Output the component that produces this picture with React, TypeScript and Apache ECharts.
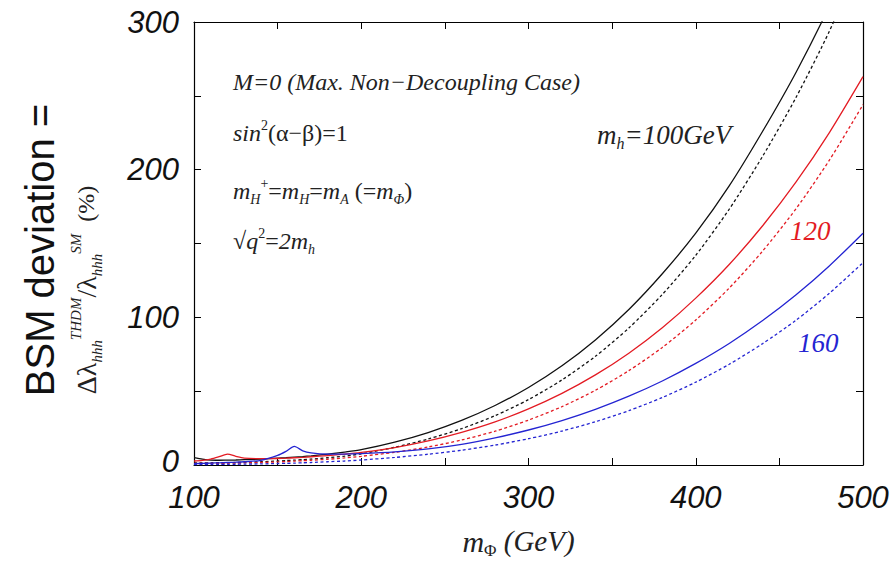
import React, { useEffect, useRef } from "react";
import * as echarts from "echarts";

// m_Phi values (GeV)
const mPhi = [100, 105, 110, 115, 120, 125, 130, 140, 150, 155, 160, 165, 170, 180, 190, 200, 220, 240, 260, 280, 300, 320, 340, 360, 380, 400, 420, 440, 460, 480, 500];

// Δλ/λ (%) — solid curves
const mh100Solid = [5.0, 4.0, 3.3, 3.2, 3.3, 3.4, 3.6, 4.0, 4.6, 4.9, 5.3, 5.7, 6.2, 7.3, 8.7, 10.4, 15.5, 22.0, 30.2, 40.3, 52.5, 67.2, 84.7, 105.3, 129.5, 157, 189, 226, 266, 311, 362];
const mh120Solid = [2.7, 3.1, 4.0, 5.6, 7.4, 5.9, 4.7, 4.3, 4.4, 4.6, 4.9, 5.2, 5.6, 6.4, 7.3, 8.5, 11.8, 16.3, 22.1, 29.2, 38.0, 48.5, 61.0, 75.7, 92.9, 113, 135.8, 162, 191.7, 225.3, 263];
const mh160Solid = [0.9, 1.1, 1.3, 1.5, 1.7, 1.9, 2.2, 3.2, 6.5, 9.2, 12.6, 9.6, 8.2, 7.4, 7.4, 7.7, 8.9, 10.9, 14.0, 18.4, 23.7, 30.1, 37.7, 46.6, 56.9, 68.8, 82.3, 97.8, 115.3, 135, 157];

// dotted curves
const mh100Dotted = [1.5, 1.5, 1.5, 1.55, 1.6, 1.7, 1.8, 2.2, 2.7, 3.0, 3.3, 3.6, 4.0, 4.9, 6.0, 7.6, 12.0, 17.6, 24.6, 33.4, 44.3, 57.6, 73.6, 92.8, 115.5, 142, 173.2, 209.1, 249, 294, 346];
const mh120Dotted = [1.0, 1.0, 1.1, 1.1, 1.2, 1.3, 1.4, 1.7, 2.1, 2.3, 2.6, 2.9, 3.2, 3.9, 4.8, 5.9, 8.6, 12.2, 16.9, 22.9, 30.4, 39.5, 50.6, 63.9, 79.6, 98.2, 119.8, 144.9, 173.6, 206.6, 244];
const mh160Dotted = [0.3, 0.3, 0.35, 0.4, 0.45, 0.5, 0.6, 0.75, 1.0, 1.1, 1.3, 1.5, 1.7, 2.2, 2.7, 3.4, 5.1, 7.3, 10.0, 13.5, 17.8, 23.0, 29.3, 36.8, 45.7, 56.1, 68.2, 82.2, 98.1, 116.4, 137];

const xTicks = [100, 200, 300, 400, 500];
const yTicks = [0, 100, 200, 300];

const BLACK = "#111111";
const RED = "#e31b23";
const BLUE = "#2424d2";
const SERIF = "Liberation Serif";
const SANS = "Liberation Sans";

const mkSeries = (name: string, vals: number[], color: string, dotted: boolean) => ({
  name,
  type: "line",
  data: mPhi.map((m, i) => [m, vals[i]]),
  symbol: "none",
  showSymbol: false,
  smooth: 0.25,
  clip: true,
  silent: true,
  lineStyle: { color, width: 1.3, type: dotted ? [3, 2.5] : "solid" },
});

const richAnno = (size: number) => ({
  i: { fontFamily: SERIF, fontStyle: "italic", fontSize: size, lineHeight: size + 6, fill: "#222" },
  n: { fontFamily: SERIF, fontStyle: "normal", fontSize: size, lineHeight: size + 6, fill: "#222" },
  sb: { fontFamily: SERIF, fontStyle: "italic", fontSize: Math.round(size * 0.58), lineHeight: Math.round(size * 0.66), verticalAlign: "bottom", fill: "#222" },
  sp: { fontFamily: SERIF, fontStyle: "normal", fontSize: Math.round(size * 0.58), lineHeight: Math.round(size * 0.66), verticalAlign: "top", fill: "#222" },
});

const axisCommon = {
  type: "value",
  splitLine: { show: false },
  axisLine: { show: true, onZero: false, lineStyle: { color: "#000", width: 1.2 } },
  axisTick: { show: true, inside: true, length: 7, lineStyle: { color: "#000", width: 1 } },
};

export default function App() {
  const ref = useRef<HTMLDivElement>(null);
  useEffect(() => {
    if (!ref.current) return;
    const chart = echarts.init(ref.current, null, { renderer: "svg" });
    const option: any = {
      animation: false,
      backgroundColor: "#ffffff",
      grid: { left: 194, right: 32, top: 22, bottom: 93, show: false },
      xAxis: [
        {
          ...axisCommon,
          min: 100,
          max: 500,
          interval: 50,
          position: "bottom",
          axisLabel: {
            formatter: (v: number) => (xTicks.includes(v) ? String(v) : ""),
            fontSize: 31,
            fontStyle: "italic",
            fontFamily: SANS,
            color: "#111",
            margin: 17,
          },
          name: "{m|m}{s|Φ}{t| (GeV)}",
          nameLocation: "middle",
          nameGap: 58,
          nameTextStyle: {
            padding: [0, 20, 0, 0],
            rich: {
              m: { fontFamily: SERIF, fontStyle: "italic", fontSize: 30, lineHeight: 36, color: "#222" },
              s: { fontFamily: SERIF, fontSize: 17, lineHeight: 22, verticalAlign: "bottom", color: "#222" },
              t: { fontFamily: SERIF, fontStyle: "italic", fontSize: 29, lineHeight: 36, color: "#222" },
            },
          },
        },
        {
          ...axisCommon,
          min: 100,
          max: 500,
          interval: 50,
          position: "top",
          axisLabel: { show: false },
        },
      ],
      yAxis: [
        {
          ...axisCommon,
          min: 0,
          max: 300,
          interval: 50,
          position: "left",
          axisLabel: {
            formatter: (v: number) =>
              v === 0 ? "{z|0}" : yTicks.includes(v) ? String(v) : "",
            fontSize: 31,
            fontStyle: "italic",
            fontFamily: SANS,
            color: "#111",
            margin: 15,
            rich: {
              z: { fontSize: 31, fontStyle: "italic", fontFamily: SANS, color: "#111", padding: [0, 0, 7, 0] },
            },
          },
        },
        {
          ...axisCommon,
          min: 0,
          max: 300,
          interval: 50,
          position: "right",
          axisLabel: { show: false },
        },
      ],
      series: [
        mkSeries("mh100 solid", mh100Solid, BLACK, false),
        mkSeries("mh100 dotted", mh100Dotted, BLACK, true),
        mkSeries("mh120 solid", mh120Solid, RED, false),
        mkSeries("mh120 dotted", mh120Dotted, RED, true),
        mkSeries("mh160 solid", mh160Solid, BLUE, false),
        mkSeries("mh160 dotted", mh160Dotted, BLUE, true),
      ],
      graphic: [
        {
          type: "text",
          x: 40,
          y: 250,
          rotation: Math.PI / 2,
          style: {
            text: "BSM deviation =",
            fontFamily: SANS,
            fontSize: 40,
            fill: "#111",
            align: "center",
            verticalAlign: "middle",
          },
        },
        {
          type: "text",
          x: 86,
          y: 290,
          rotation: Math.PI / 2,
          style: {
            text: "{b|Δλ}{sb|hhh}{sp|THDM}{b|/λ}{sb|hhh}{sp|SM}{p|  (%)}",
            align: "center",
            verticalAlign: "middle",
            rich: {
              b: { fontFamily: SERIF, fontSize: 28, lineHeight: 36, fill: "#222" },
              sb: { fontFamily: SERIF, fontStyle: "italic", fontSize: 15, lineHeight: 18, verticalAlign: "bottom", fill: "#222" },
              sp: { fontFamily: SERIF, fontStyle: "italic", fontSize: 15, lineHeight: 18, verticalAlign: "top", fill: "#222" },
              p: { fontFamily: SERIF, fontSize: 24, lineHeight: 36, fill: "#222" },
            },
          },
        },
        {
          type: "text",
          x: 233,
          y: 82,
          style: {
            text: "M=0 (Max. Non−Decoupling Case)",
            fontFamily: SERIF,
            fontStyle: "italic",
            fontSize: 24,
            fill: "#222",
            align: "left",
            verticalAlign: "middle",
          },
        },
        {
          type: "text",
          x: 233,
          y: 133,
          style: {
            text: "{i|sin}{sp|2}{n|(α−β)=1}",
            align: "left",
            verticalAlign: "middle",
            rich: richAnno(24),
          },
        },
        {
          type: "text",
          x: 233,
          y: 191,
          style: {
            text: "{i|m}{sb|H}{sp|+}{n|=}{i|m}{sb|H}{n|=}{i|m}{sb|A}{n| (=}{i|m}{sb|Φ}{n|)}",
            align: "left",
            verticalAlign: "middle",
            rich: richAnno(24),
          },
        },
        {
          type: "text",
          x: 233,
          y: 241,
          style: {
            text: "{n|√}{i|q}{sp|2}{n|=}{i|2m}{sb|h}",
            align: "left",
            verticalAlign: "middle",
            rich: richAnno(24),
          },
        },
        {
          type: "text",
          x: 597,
          y: 135,
          style: {
            text: "{i|m}{sb|h}{i|=100GeV}",
            align: "left",
            verticalAlign: "middle",
            rich: richAnno(27),
          },
        },
        {
          type: "text",
          x: 790,
          y: 231,
          style: {
            text: "120",
            fontFamily: SERIF,
            fontStyle: "italic",
            fontSize: 27,
            fill: RED,
            align: "left",
            verticalAlign: "middle",
          },
        },
        {
          type: "text",
          x: 798,
          y: 343,
          style: {
            text: "160",
            fontFamily: SERIF,
            fontStyle: "italic",
            fontSize: 27,
            fill: BLUE,
            align: "left",
            verticalAlign: "middle",
          },
        },
      ],
    };
    chart.setOption(option);
    return () => chart.dispose();
  }, []);
  return (
    <div
      ref={ref}
      style={{ position: "fixed", left: 0, top: 0, width: 895, height: 564, background: "#fff" }}
    />
  );
}
